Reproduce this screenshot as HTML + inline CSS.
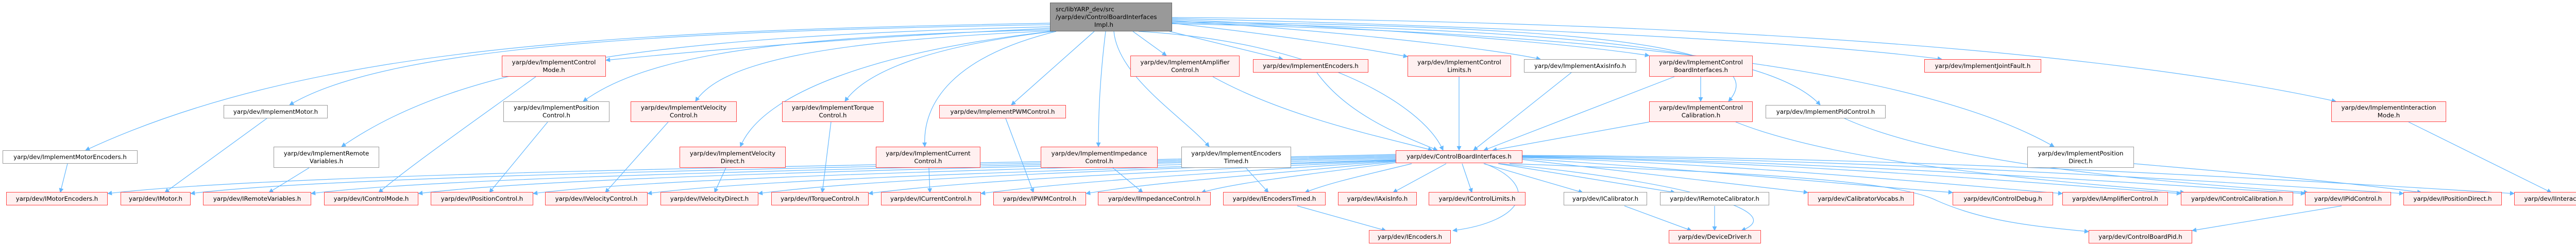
<!DOCTYPE html>
<html><head><meta charset="utf-8">
<style>
html,body{margin:0;padding:0;background:#fff;overflow:hidden;}
body{width:5091px;height:476px;position:relative;font-family:"DejaVu Sans","Liberation Sans",sans-serif;font-size:11.8px;color:#000;}
.n{position:absolute;box-sizing:border-box;display:flex;align-items:center;justify-content:center;text-align:center;line-height:15px;white-space:nowrap;overflow:hidden;}
.r{background:#fff0f0;border:1.5px solid #f44;}
.g{background:#fff;border:1.5px solid #999;}
.m{background:#999;border:1.5px solid #666;}
svg{position:absolute;left:0;top:0;}
</style></head><body>
<svg width="5091" height="476" viewBox="0 0 5091 476">
<defs><marker id="a" viewBox="0 0 10 10" refX="9" refY="5" markerWidth="10" markerHeight="9" markerUnits="userSpaceOnUse" orient="auto"><path d="M0,0 L10,5 L0,10 z" fill="#63b8ff"/></marker></defs>
<g fill="none" stroke="#63b8ff" stroke-width="1.2" marker-end="url(#a)">
<path d="M2038,45 C1200,60 600,90 166,292"/>
<path d="M2038,48 C1300,60 750,90 562,204"/>
<path d="M2038,52 C1300,70 900,120 663,285"/>
<path d="M2038,55 C1700,70 1400,95 1176,117"/>
<path d="M2038,58 C1500,70 1250,110 1132,197"/>
<path d="M2040,60 C1600,80 1400,120 1350,197"/>
<path d="M2040,61 C1700,100 1480,180 1437,285"/>
<path d="M2045,61 C1800,90 1680,140 1640,197"/>
<path d="M2050,61 C1850,110 1790,200 1795,285"/>
<path d="M2124,61 L1963,204"/>
<path d="M2146,61 C2135,150 2132,220 2132,285"/>
<path d="M2162,61 C2170,150 2300,230 2347,285"/>
<path d="M2199,61 L2264,108"/>
<path d="M2270,61 L2490,115"/>
<path d="M2275,45 C2500,70 2650,95 2732,110"/>
<path d="M2275,40 C2600,60 2900,95 2990,115"/>
<path d="M2275,38 C2700,55 3050,85 3201,108"/>
<path d="M2275,42 C2900,50 3470,70 3355,197"/>
<path d="M2275,44 C2900,55 3420,80 3533,204"/>
<path d="M2275,36 C2900,50 3500,80 3769,115"/>
<path d="M2275,46 C3000,60 3700,120 3987,285"/>
<path d="M2275,34 C3100,40 4000,80 4534,197"/>
<path d="M2210,61 C2550,80 2760,200 2801,292"/>
<path d="M2354,149 C2500,230 2700,270 2780,292"/>
<path d="M2556,141 C2620,230 2740,270 2790,292"/>
<path d="M2832,149 L2832,292"/>
<path d="M3050,141 L2860,292"/>
<path d="M3250,149 L2880,292"/>
<path d="M3201,237 L2897,292"/>
<path d="M3301,149 L3301,197"/>
<path d="M3369,237 C3600,330 4100,360 4240,374"/>
<path d="M3580,230 C3800,330 4300,360 4480,374"/>
<path d="M4142,318 C4400,340 4600,360 4700,374"/>
<path d="M4675,237 L4952,374"/>
<path d="M131,318 L117,374"/>
<path d="M518,230 L320,374"/>
<path d="M600,326 L522,374"/>
<path d="M1040,149 C900,250 800,320 735,374"/>
<path d="M1063,237 L950,374"/>
<path d="M1297,237 L1175,374"/>
<path d="M1409,326 L1387,374"/>
<path d="M1613,237 L1596,374"/>
<path d="M1803,326 L1805,374"/>
<path d="M1952,230 L2006,374"/>
<path d="M2160,326 L2218,374"/>
<path d="M2418,326 L2462,374"/>
<path d="M2518,400 L2690,448"/>
<path d="M3153,400 L3283,448"/>
<path d="M3328,400 L3328,448"/>
<path d="M4545,400 L4255,448"/>
<path d="M2709,300 C2000,318 600,330 209,376"/>
<path d="M2709,302 C2000,320 700,335 370,376"/>
<path d="M2709,304 C2000,322 900,338 604,376"/>
<path d="M2709,306 C2000,324 1100,340 812,376"/>
<path d="M2709,308 C2100,326 1300,342 1035,376"/>
<path d="M2709,310 C2200,328 1500,344 1257,376"/>
<path d="M2709,311 C2200,330 1700,346 1472,376"/>
<path d="M2709,312 C2300,332 1900,348 1686,376"/>
<path d="M2709,313 C2400,334 2100,350 1904,376"/>
<path d="M2709,314 C2500,336 2250,352 2108,376"/>
<path d="M2709,316 C2550,338 2400,354 2332,374"/>
<path d="M2740,318 C2650,340 2580,355 2533,374"/>
<path d="M2807,318 L2704,374"/>
<path d="M2838,318 L2857,374"/>
<path d="M2882,318 C2990,360 2960,430 2820,448"/>
<path d="M2880,318 L3072,374"/>
<path d="M2908,318 L3251,374"/>
<path d="M2910,318 C3250,350 3480,410 3380,448"/>
<path d="M2955,310 L3509,374"/>
<path d="M2955,308 C3300,330 3600,360 3790,374"/>
<path d="M2955,306 C3400,320 3800,360 4003,376"/>
<path d="M2955,305 C3500,315 4000,360 4233,376"/>
<path d="M2955,304 C3600,315 4200,360 4474,376"/>
<path d="M2955,303 C3700,310 4400,360 4665,376"/>
<path d="M2955,302 C3800,305 4600,360 4880,376"/>
<path d="M2930,318 C3400,335 3680,350 3760,390 C3850,430 3950,440 4054,450"/>
</g>
</svg>

<div class="n m" style="left:2038px;top:5px;width:237px;height:56px;text-align:left;line-height:15px;justify-content:flex-start;padding-left:10px">src/libYARP_dev/src<br>/yarp/dev/ControlBoardInterfaces<br>&nbsp;&nbsp;&nbsp;&nbsp;&nbsp;&nbsp;&nbsp;&nbsp;&nbsp;&nbsp;&nbsp;&nbsp;&nbsp;&nbsp;&nbsp;&nbsp;&nbsp;&nbsp;&nbsp;&nbsp;Impl.h</div>

<div class="n r" style="left:974px;top:108px;width:202px;height:41px">yarp/dev/ImplementControl<br>Mode.h</div>
<div class="n r" style="left:2194px;top:108px;width:212px;height:41px">yarp/dev/ImplementAmplifier<br>Control.h</div>
<div class="n r" style="left:2432px;top:115px;width:224px;height:26px">yarp/dev/ImplementEncoders.h</div>
<div class="n r" style="left:2732px;top:108px;width:201px;height:41px">yarp/dev/ImplementControl<br>Limits.h</div>
<div class="n g" style="left:2958px;top:115px;width:218px;height:26px">yarp/dev/ImplementAxisInfo.h</div>
<div class="n r" style="left:3201px;top:108px;width:201px;height:41px">yarp/dev/ImplementControl<br>BoardInterfaces.h</div>
<div class="n r" style="left:3735px;top:115px;width:227px;height:26px">yarp/dev/ImplementJointFault.h</div>

<div class="n g" style="left:434px;top:204px;width:202px;height:26px">yarp/dev/ImplementMotor.h</div>
<div class="n g" style="left:977px;top:197px;width:206px;height:40px">yarp/dev/ImplementPosition<br>Control.h</div>
<div class="n r" style="left:1224px;top:197px;width:206px;height:40px">yarp/dev/ImplementVelocity<br>Control.h</div>
<div class="n r" style="left:1518px;top:197px;width:197px;height:40px">yarp/dev/ImplementTorque<br>Control.h</div>
<div class="n r" style="left:1823px;top:204px;width:246px;height:26px">yarp/dev/ImplementPWMControl.h</div>
<div class="n r" style="left:3201px;top:197px;width:201px;height:40px">yarp/dev/ImplementControl<br>Calibration.h</div>
<div class="n g" style="left:3427px;top:204px;width:233px;height:26px">yarp/dev/ImplementPidControl.h</div>
<div class="n r" style="left:4525px;top:197px;width:223px;height:40px">yarp/dev/ImplementInteraction<br>Mode.h</div>

<div class="n g" style="left:5px;top:292px;width:262px;height:26px">yarp/dev/ImplementMotorEncoders.h</div>
<div class="n g" style="left:531px;top:285px;width:205px;height:41px">yarp/dev/ImplementRemote<br>Variables.h</div>
<div class="n r" style="left:1319px;top:285px;width:206px;height:41px">yarp/dev/ImplementVelocity<br>Direct.h</div>
<div class="n r" style="left:1700px;top:285px;width:203px;height:41px">yarp/dev/ImplementCurrent<br>Control.h</div>
<div class="n r" style="left:2020px;top:285px;width:227px;height:41px">yarp/dev/ImplementImpedance<br>Control.h</div>
<div class="n g" style="left:2293px;top:285px;width:213px;height:41px">yarp/dev/ImplementEncoders<br>Timed.h</div>
<div class="n r" style="left:2709px;top:292px;width:246px;height:25px">yarp/dev/ControlBoardInterfaces.h</div>
<div class="n g" style="left:3935px;top:285px;width:207px;height:41px">yarp/dev/ImplementPosition<br>Direct.h</div>

<div class="n r" style="left:12px;top:373px;width:197px;height:26px">yarp/dev/IMotorEncoders.h</div>
<div class="n r" style="left:234px;top:373px;width:136px;height:26px">yarp/dev/IMotor.h</div>
<div class="n r" style="left:394px;top:373px;width:210px;height:26px">yarp/dev/IRemoteVariables.h</div>
<div class="n r" style="left:629px;top:373px;width:183px;height:26px">yarp/dev/IControlMode.h</div>
<div class="n r" style="left:836px;top:373px;width:199px;height:26px">yarp/dev/IPositionControl.h</div>
<div class="n r" style="left:1058px;top:373px;width:199px;height:26px">yarp/dev/IVelocityControl.h</div>
<div class="n r" style="left:1282px;top:373px;width:190px;height:26px">yarp/dev/IVelocityDirect.h</div>
<div class="n r" style="left:1497px;top:373px;width:189px;height:26px">yarp/dev/ITorqueControl.h</div>
<div class="n r" style="left:1710px;top:373px;width:194px;height:26px">yarp/dev/ICurrentControl.h</div>
<div class="n r" style="left:1928px;top:373px;width:180px;height:26px">yarp/dev/IPWMControl.h</div>
<div class="n r" style="left:2131px;top:373px;width:219px;height:26px">yarp/dev/IImpedanceControl.h</div>
<div class="n r" style="left:2374px;top:373px;width:199px;height:26px">yarp/dev/IEncodersTimed.h</div>
<div class="n r" style="left:2597px;top:373px;width:153px;height:26px">yarp/dev/IAxisInfo.h</div>
<div class="n r" style="left:2773px;top:373px;width:188px;height:26px">yarp/dev/IControlLimits.h</div>
<div class="n g" style="left:3035px;top:373px;width:162px;height:26px">yarp/dev/ICalibrator.h</div>
<div class="n g" style="left:3222px;top:373px;width:212px;height:26px">yarp/dev/IRemoteCalibrator.h</div>
<div class="n r" style="left:3509px;top:373px;width:206px;height:26px">yarp/dev/CalibratorVocabs.h</div>
<div class="n r" style="left:3790px;top:373px;width:195px;height:26px">yarp/dev/IControlDebug.h</div>
<div class="n r" style="left:4003px;top:373px;width:205px;height:26px">yarp/dev/IAmplifierControl.h</div>
<div class="n r" style="left:4233px;top:373px;width:218px;height:26px">yarp/dev/IControlCalibration.h</div>
<div class="n r" style="left:4474px;top:373px;width:167px;height:26px">yarp/dev/IPidControl.h</div>
<div class="n r" style="left:4665px;top:373px;width:191px;height:26px">yarp/dev/IPositionDirect.h</div>
<div class="n r" style="left:4880px;top:373px;width:206px;height:26px">yarp/dev/IInteractionMode.h</div>

<div class="n r" style="left:2657px;top:447px;width:159px;height:26px">yarp/dev/IEncoders.h</div>
<div class="n r" style="left:3239px;top:447px;width:179px;height:26px">yarp/dev/DeviceDriver.h</div>
<div class="n r" style="left:4054px;top:447px;width:201px;height:26px">yarp/dev/ControlBoardPid.h</div>
</body></html>
